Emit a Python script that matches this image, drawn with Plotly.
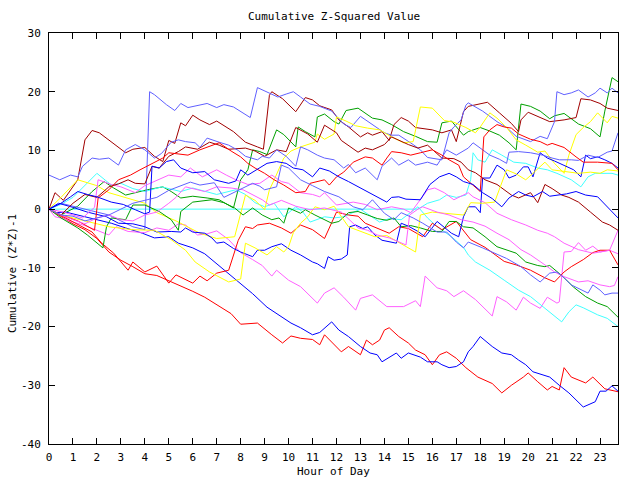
import plotly.graph_objects as go

# ---- data: (hour, cumulative value) waypoints ----
R1 = [(0,0),(0.5,-1.2),(1.0,-2.5),(1.5,-3.5),(2.0,-5.0),(2.5,-7.3),(3.0,-8.7),(3.5,-9.8),(4.0,-11.0),(4.5,-11.3),
      (5.0,-12.2),(5.5,-13.0),(6.0,-14.0),(6.5,-15.0),(7.0,-16.3),(7.6,-17.8),(8.0,-19.6),(8.7,-19.4),(9.3,-21.4),
      (9.75,-22.8),(10.1,-21.6),(10.5,-22.0),(11.0,-22.2),(11.3,-23.1),(11.5,-21.4),(11.9,-23.0),(12.2,-24.3),
      (12.5,-23.4),(13.0,-24.8),(13.25,-22.3),(13.5,-23.1),(13.8,-22.3),(14.0,-20.6),(14.2,-20.2),(14.6,-21.7),
      (15.0,-22.8),(15.3,-24.0),(15.7,-24.8),(16.0,-26.5),(16.3,-24.8),(16.6,-24.3),(17.0,-25.4),(17.4,-27.0),
      (17.9,-28.6),(18.5,-29.7),(18.9,-31.3),(19.3,-30.0),(19.8,-28.6),(20.0,-27.9),(20.4,-29.4),(20.8,-30.8),
      (21.0,-30.2),(21.3,-30.8),(21.5,-27.0),(21.8,-28.6),(22.4,-29.6),(22.7,-28.6),(23.2,-30.6),(23.75,-31.1)]
R2 = [(0,0),(0.7,-1.5),(1.2,-2.7),(1.8,-3.9),(2.2,-5.8),(2.7,-7.5),(3.3,-10.4),(3.5,-9.0),(4.0,-10.7),(4.5,-9.7),
      (5.0,-12.6),(5.3,-11.2),(6.0,-12.6),(6.3,-11.4),(6.6,-12.2),(7.0,-10.9),(7.5,-10.4),(7.9,-5.3),(8.2,-3.0),
      (8.5,-3.3),(8.7,-2.7),(9.2,-2.4),(9.7,-3.2),(10.1,-4.1),(10.5,-2.7),(11.0,-3.5),(11.5,-5.0),(11.8,-2.4),
      (12.0,-0.5),(12.5,-1.0),(12.9,-1.2),(13.2,-2.4),(13.7,-3.2),(14.2,-4.1),(14.6,-3.0),(15.0,-3.3),(15.6,-4.7),
      (16.0,-2.4),(16.4,-3.5),(17.0,-2.1),(17.6,-5.2),(18.2,-6.5),(19.0,-8.9),(19.5,-9.5),(20.1,-10.4),(20.7,-11.7),
      (21.1,-12.4),(21.5,-10.7),(21.8,-9.8),(22.3,-8.6),(22.7,-7.4),(23.0,-7.0),(23.4,-7.0),(23.75,-9.5)]
R3 = [(0,0),(0.5,-1.0),(1.2,-2.0),(1.9,-3.6),(2.05,1.9),(2.5,3.3),(2.9,5.0),(3.4,5.8),(3.8,6.7),(4.2,7.5),
      (4.75,8.7),(5.0,9.6),(5.5,9.4),(5.8,9.2),(6.3,10.1),(6.7,10.7),(7.1,11.3),(7.6,9.9),(8.0,8.9),(8.3,7.8),
      (8.6,7.0),(9.0,6.1),(9.4,5.0),(9.8,4.1),(10.3,2.8),(10.7,3.0),(10.9,4.4),(11.5,5.0),(11.7,4.1),(12.0,5.5),
      (12.3,6.3),(12.7,8.0),(13.2,8.9),(13.5,8.7),(13.9,7.5),(14.1,8.7),(14.3,9.8),(14.7,9.6),(15.1,9.2),(15.5,9.6),
      (16.0,10.1),(16.4,9.2),(16.7,8.4),(17.1,7.5),(17.3,5.5),(18.0,3.0),(18.15,12.3),(18.4,13.5),(18.7,14.4),
      (19.0,14.0),(19.3,13.8),(19.6,12.8),(20.1,11.9),(20.5,11.5),(20.8,10.9),(21.0,11.2),(21.5,10.5),(22.0,8.9),
      (22.3,8.0),(22.9,8.0),(23.5,7.8),(23.75,6.7)]
DR1 = [(0,0),(0.25,2.8),(0.6,1.5),(1.2,5.0),(1.5,11.8),(1.8,13.4),(2.1,13.0),(2.6,11.4),(2.9,10.4),(3.2,9.6),
       (3.5,10.2),(4.0,10.5),(4.4,9.0),(4.75,8.1),(5.0,11.7),(5.25,11.2),(5.5,14.7),(5.7,14.2),(6.0,16.0),(6.3,15.2),
       (6.7,14.4),(7.0,15.0),(7.7,13.2),(8.2,11.4),(8.7,10.6),(8.95,10.2),(9.2,19.4),(9.3,20.0),(9.75,18.8),
       (10.3,16.6),(10.7,19.0),(11.0,18.6),(11.3,17.6),(11.8,16.9),(12.1,15.2),(12.5,14.0),(13.0,12.3),(13.3,13.0),
       (13.5,12.6),(13.9,13.2),(14.2,11.7),(14.4,14.4),(14.7,15.6),(15.0,15.0),(15.3,13.9),(16.0,13.5),(16.4,13.0),
       (16.8,13.5),(17.0,11.5),(17.3,16.6),(17.5,17.5),(18.0,17.9),(18.3,18.2),(18.8,16.4),(19.3,14.6),(19.6,13.2),
       (19.7,15.2),(20.0,16.5),(20.5,15.6),(20.9,14.9),(21.5,15.2),(22.0,15.6),(22.2,18.8),(22.6,18.6),(23.0,18.0),
       (23.3,17.2),(23.75,16.8)]
DR2 = [(0,0),(0.5,-1.0),(1.0,1.0),(1.5,2.5),(2.0,2.0),(2.5,3.8),(2.9,4.3),(3.3,5.0),(3.6,4.4),(4.0,4.3),(4.3,7.3),
       (4.6,7.0),(5.0,9.0),(5.4,9.8),(5.7,10.6),(6.2,10.2),(6.7,11.4),(7.1,10.9),(7.5,10.2),(8.2,10.4),(8.6,9.9),
       (9.0,9.0),(9.5,10.1),(9.9,9.8),(10.3,13.9),(10.8,12.8),(11.2,11.4),(11.5,14.3),(12.0,13.0),(12.2,11.7),
       (12.9,9.7),(13.2,10.4),(13.5,10.1),(14.0,11.0),(14.3,12.3),(14.6,11.7),(15.0,11.0),(15.4,10.4),(15.8,10.9),
       (16.4,8.7),(16.9,8.6),(17.2,8.0),(17.5,6.7),(17.8,6.2),(18.2,5.0),(18.7,4.2),(19.3,2.4),(19.6,1.9),(20.1,2.8),
       (20.4,1.1),(20.7,4.2),(21.0,3.5),(21.4,2.4),(21.7,2.0),(22.1,1.2),(22.6,-0.5),(23.1,-2.2),(23.4,-2.7),
       (23.75,-3.6)]
G1 = [(0,0),(0.5,-1.0),(1.2,0.5),(1.8,3.0),(2.3,4.7),(2.7,3.6),(3.2,2.4),(3.6,2.8),(4.1,3.3),(4.75,3.8),(5.1,3.0),
      (5.5,1.9),(6.0,2.2),(6.6,1.9),(7.1,1.6),(7.7,0.2),(8.0,5.0),(8.3,6.7),(8.5,10.1),(8.8,9.8),(9.1,9.3),(9.5,13.5),
      (9.8,12.7),(10.3,10.6),(10.4,14.0),(10.7,13.2),(11.1,12.3),(11.2,15.7),(11.5,16.2),(11.9,14.9),(12.1,14.5),
      (12.4,16.8),(12.9,17.2),(13.5,15.5),(13.9,15.2),(14.3,14.4),(14.8,13.2),(15.3,12.4),(15.8,11.5),(16.2,11.4),
      (16.4,14.7),(16.8,15.0),(17.3,12.6),(17.5,13.2),(18.0,13.9),(18.4,13.3),(18.8,12.6),(19.2,11.3),(19.5,10.1),
      (19.7,17.9),(20.1,17.5),(20.5,16.7),(20.9,15.4),(21.1,15.9),(21.5,16.3),(21.8,15.4),(22.1,14.5),(22.6,13.7),
      (23.0,12.3),(23.2,16.7),(23.5,22.4),(23.75,21.7)]
G2 = [(0,0),(0.5,-1.5),(1.2,-3.2),(1.6,-4.4),(2.25,-6.6),(2.4,-3.0),(2.6,-1.5),(3.2,-1.8),(3.5,0.7),(4.0,0.7),
      (4.6,-0.4),(5.1,-1.8),(5.4,-3.6),(5.5,-0.4),(6.0,1.2),(6.5,1.5),(6.8,1.6),(7.3,1.1),(7.75,0.2),(8.1,-1.0),
      (8.5,0.2),(8.9,-1.0),(9.3,-1.8),(9.6,-1.5),(9.8,-2.4),(10.0,0.2),(10.5,-0.7),(10.7,-0.1),(11.1,-1.0),
      (11.8,-2.4),(12.1,-2.1),(12.5,-0.6),(12.9,-0.4),(13.3,-1.0),(13.7,-1.6),(14.1,-1.9),(14.4,-1.5),(14.7,-3.0),
      (15.1,-2.8),(15.5,-3.2),(16.0,-3.8),(16.4,-3.8),(16.7,-2.1),(17.0,-2.1),(17.3,-3.0),(17.7,-3.2),(18.2,-4.7),
      (18.7,-6.4),(19.1,-7.0),(19.5,-7.5),(19.9,-9.0),(20.4,-9.6),(20.7,-9.8),(20.9,-9.6),(21.4,-11.3),(21.9,-13.3),
      (22.4,-14.9),(22.9,-16.0),(23.3,-16.6),(23.75,-18.4)]
B1 = [(0,0),(0.25,-0.6),(0.7,-0.5),(1.2,-1.0),(1.8,-1.5),(2.6,-2.4),(3.2,-3.2),(3.9,-4.1),(4.4,-4.9),(5.0,-4.7),
      (5.4,-5.8),(6.0,-6.6),(6.5,-7.6),(7.0,-9.3),(7.7,-11.6),(8.5,-14.4),(9.1,-16.7),(9.7,-18.4),(10.1,-19.4),
      (10.5,-20.2),(11.0,-21.4),(11.3,-21.0),(11.8,-19.2),(12.1,-20.6),(12.5,-21.7),(13.0,-23.4),(13.4,-24.5),
      (13.7,-24.8),(13.9,-26.0),(14.5,-24.5),(14.7,-25.4),(15.0,-24.5),(15.5,-25.2),(15.8,-26.0),(16.2,-26.0),
      (16.4,-26.5),(16.7,-27.0),(17.0,-26.8),(17.3,-26.0),(17.5,-24.3),(17.7,-23.4),(18.0,-21.7),(18.5,-23.4),
      (18.9,-24.5),(19.3,-24.8),(19.6,-25.7),(19.9,-26.5),(20.2,-27.7),(20.9,-28.6),(21.3,-30.0),(21.7,-31.3),
      (22.3,-33.7),(22.8,-32.8),(23.0,-31.0),(23.25,-31.0),(23.5,-30.1),(23.75,-31.0)]
B2 = [(0,0),(0.4,1.0),(1.0,0.3),(1.6,-0.5),(2.4,-1.3),(2.9,-2.4),(3.5,-2.5),(4.0,-3.0),(4.5,-3.9),(5.1,-3.8),
      (5.5,-3.9),(5.7,-3.2),(6.0,-3.9),(6.5,-4.1),(6.8,-4.9),(7.0,-5.8),(7.3,-5.6),(7.7,-6.7),(8.0,-7.3),(8.5,-8.1),
      (8.7,-7.0),(9.0,-7.0),(9.3,-6.4),(9.7,-5.9),(10.1,-7.0),(10.5,-7.8),(11.0,-9.0),(11.2,-9.3),(11.5,-10.1),
      (11.65,-8.1),(11.9,-8.7),(12.2,-8.5),(12.45,-7.8),(12.55,-3.0),(12.8,-2.7),(13.1,-3.3),(13.3,-3.0),(13.6,-4.4),
      (13.9,-5.3),(14.3,-5.6),(14.5,-5.8),(14.7,-2.4),(15.0,-2.9),(15.4,-3.8),(15.7,-4.7),(16.2,-2.1),(16.8,-4.1),
      (17.1,-4.7),(17.3,-1.3),(17.5,0.4),(17.8,0.4),(18.0,-0.6),(18.1,5.3),(18.4,5.3),(18.7,7.5),(19.0,6.7),
      (19.2,5.3),(19.5,5.8),(19.8,7.2),(20.0,7.2),(20.2,5.5),(20.5,9.6),(20.8,8.7),(21.1,8.2),(21.5,7.5),(21.9,6.7),
      (22.2,5.5),(22.4,9.2),(22.6,8.6),(22.9,8.9),(23.2,8.4),(23.5,7.8),(23.75,7.0)]
B3 = [(0,0),(0.5,1.0),(0.9,2.1),(1.2,3.0),(1.6,2.5),(2.0,2.1),(2.6,1.2),(3.1,0.8),(3.6,-0.1),(4.0,-0.8),(4.2,-0.5),
      (4.3,7.3),(4.6,7.0),(4.9,8.1),(5.2,8.4),(5.5,7.0),(6.0,6.2),(6.5,6.4),(6.9,5.0),(7.5,4.4),(7.8,4.8),(8.0,6.7),
      (8.3,5.8),(8.7,6.8),(9.1,7.8),(9.5,8.1),(9.9,7.8),(10.2,7.0),(10.6,6.7),(11.0,5.5),(11.3,7.0),(11.7,6.5),
      (12.1,5.5),(12.5,4.7),(12.9,3.8),(13.4,2.8),(13.7,2.1),(14.1,1.2),(14.3,2.0),(14.6,2.1),(14.9,1.7),(15.5,1.6),
      (15.9,4.2),(16.3,5.5),(16.7,6.1),(17.0,5.5),(17.3,4.7),(17.7,4.2),(18.1,2.8),(18.5,1.8),(18.9,0.4),(19.2,1.9),
      (19.6,3.0),(19.9,2.4),(20.2,2.1),(20.6,3.0),(20.9,2.2),(21.2,2.4),(21.6,2.6),(22.0,3.0),(22.4,2.4),(22.9,2.1),
      (23.3,0.4),(23.75,-1.5)]
LB1 = [(0,0),(0.5,1.0),(1.0,0.5),(1.5,0.0),(2.0,-0.5),(2.5,-1.0),(3.0,-2.0),(3.5,-3.0),(4.0,-3.5),(4.2,20.0),
       (4.4,19.5),(4.9,17.8),(5.25,16.8),(5.5,18.0),(5.8,17.3),(6.2,17.6),(6.6,18.0),(7.0,17.3),(7.3,17.8),(7.7,17.4),
       (8.4,15.6),(8.7,20.7),(9.2,19.8),(9.55,19.1),(9.9,19.6),(10.2,20.0),(10.5,19.1),(10.9,17.9),(11.3,17.5),
       (11.8,16.7),(12.3,14.5),(12.6,13.9),(13.0,15.8),(13.3,15.0),(13.7,13.9),(14.0,13.0),(14.3,12.6),(14.6,12.6),
       (15.2,11.0),(15.5,10.1),(15.8,8.8),(16.4,8.4),(16.7,13.0),(16.9,14.0),(17.2,15.2),(17.4,17.7),(17.5,18.1),
       (18.1,16.7),(18.7,14.9),(19.1,13.9),(19.5,12.4),(20.1,11.5),(20.5,12.4),(20.8,12.0),(21.1,14.9),(21.2,20.0),
       (21.5,19.5),(21.8,19.8),(22.1,20.3),(22.5,19.1),(22.8,19.8),(23.0,20.6),(23.3,19.8),(23.5,20.6),(23.75,19.8)]
LB2 = [(0,5.8),(0.45,5.0),(0.9,5.8),(1.2,5.5),(1.4,7.3),(1.8,8.7),(2.1,8.5),(2.5,8.7),(2.9,7.5),(3.2,10.1),
       (3.6,11.0),(4.0,10.1),(4.4,8.7),(4.7,9.5),(5.1,11.4),(5.4,11.8),(5.7,11.5),(6.1,11.3),(6.3,10.5),(6.6,12.1),
       (7.1,11.4),(7.5,10.9),(7.9,10.0),(8.2,9.0),(8.7,8.4),(8.9,9.0),(9.2,8.7),(9.5,10.1),(9.9,9.0),(10.3,7.3),
       (10.5,10.6),(10.8,10.1),(11.2,9.2),(11.5,8.7),(11.9,8.4),(12.3,7.0),(12.5,7.6),(12.8,6.2),(13.2,7.0),
       (13.7,5.0),(13.9,7.3),(14.3,8.7),(14.6,7.5),(15.0,8.4),(15.3,7.5),(15.8,8.0),(16.2,7.5),(16.6,10.1),(17.0,9.2),
       (17.5,10.4),(17.7,11.3),(18.0,10.4),(18.4,9.2),(18.8,8.5),(19.1,7.8),(19.2,9.7),(19.6,9.8),(20.1,9.6),
       (20.6,9.2),(21.0,8.7),(21.3,8.4),(21.8,8.4),(22.1,8.3),(22.5,9.2),(22.9,8.8),(23.3,9.7),(23.5,9.9),(23.75,13.0)]
LB3 = [(0,0),(0.5,-1.0),(1.0,-1.2),(1.5,-2.0),(2.0,-1.5),(2.5,-1.0),(3.0,0.0),(3.5,1.0),(4.0,1.5),(4.5,2.0),
       (5.0,3.2),(5.5,4.0),(5.9,4.6),(6.3,4.1),(6.9,4.5),(7.3,2.0),(7.8,3.0),(8.5,4.4),(8.8,3.9),(9.0,3.3),(9.5,3.8),
       (9.7,7.5),(10.0,7.0),(10.5,5.0),(11.0,4.0),(11.5,3.0),(12.1,2.1),(12.7,0.4),(13.1,-0.1),(13.5,1.6),(14.0,-0.7),
       (14.4,-1.8),(14.7,-0.6),(15.2,-1.5),(15.6,-2.4),(16.2,-3.9),(16.6,-3.9),(17.0,-5.6),(17.3,-6.6),(17.5,-5.6),
       (18.1,-6.6),(18.6,-7.5),(19.1,-8.4),(19.7,-9.8),(20.1,-11.2),(20.5,-12.4),(20.9,-10.9),(21.2,-10.7),
       (21.5,-11.7),(21.8,-12.9),(22.1,-13.5),(22.5,-14.3),(22.7,-12.9),(23.0,-13.8),(23.2,-14.6),(23.5,-14.3),
       (23.75,-14.3)]
M1 = [(0,0),(0.25,-1.3),(0.6,-1.6),(1.0,-2.2),(1.5,-2.8),(1.9,-3.4),(2.5,-4.4),(2.8,-3.0),(3.3,-3.8),(4.0,-4.0),
      (4.5,-3.2),(5.0,-3.6),(5.4,-2.5),(5.7,-2.7),(6.2,-4.4),(6.6,-4.2),(7.0,-3.7),(7.5,-5.2),(8.0,-7.4),(8.5,-8.6),
      (8.9,-9.6),(9.3,-11.4),(9.5,-10.4),(10.0,-12.1),(10.5,-13.2),(11.2,-16.0),(11.5,-14.3),(11.9,-13.4),
      (12.3,-15.0),(12.8,-17.2),(13.0,-15.2),(13.5,-14.6),(14.1,-16.6),(14.8,-16.6),(15.3,-15.6),(15.5,-16.6),
      (15.7,-11.4),(16.2,-13.4),(16.6,-13.9),(16.9,-14.9),(17.3,-13.9),(17.8,-15.4),(18.5,-18.2),(18.7,-14.9),
      (19.1,-15.8),(19.5,-17.2),(19.8,-15.0),(20.1,-16.0),(20.5,-16.9),(20.8,-15.0),(21.2,-16.0),(21.3,-15.8),
      (21.5,-7.3),(21.8,-7.2),(22.1,-5.7),(22.4,-7.0),(22.7,-6.3),(23.0,-7.3),(23.4,-7.0),(23.75,-7.6)]
M2 = [(0,0),(0.6,-0.5),(1.4,-1.5),(1.9,0.3),(2.05,5.0),(2.6,4.2),(3.0,3.8),(3.6,2.8),(4.0,4.0),(4.6,5.0),(5.0,5.8),
      (5.5,5.5),(5.9,7.0),(6.4,5.5),(7.0,6.7),(7.4,5.8),(7.8,5.0),(8.3,4.2),(8.8,4.4),(9.3,5.8),(9.7,4.7),(10.0,4.4),
      (10.5,2.8),(11.0,2.5),(11.3,2.1),(11.5,2.8),(12.0,0.7),(12.7,1.2),(13.2,0.8),(13.7,-0.1),(14.3,0.4),(14.8,0.0),
      (15.1,-0.6),(15.8,3.3),(16.1,3.6),(16.5,2.8),(16.9,1.6),(17.5,2.8),(17.7,2.1),(18.2,1.1),(18.7,-0.7),
      (19.3,-1.8),(19.9,-2.7),(20.4,-3.6),(20.8,-4.1),(21.1,-4.7),(21.5,-5.8),(22.1,-6.9),(22.7,-7.5),(23.0,-7.3),
      (23.4,-7.0),(23.75,-3.6)]
M3 = [(0,0),(0.5,-1.0),(1.0,-1.8),(1.5,-2.5),(2.0,-1.5),(2.5,-1.0),(3.0,-1.8),(3.5,-2.0),(4.0,-1.0),(4.5,-0.5),
      (5.0,1.0),(5.3,2.0),(5.7,3.8),(6.2,3.3),(6.5,3.0),(7.0,3.8),(7.6,3.6),(8.1,3.3),(8.5,2.5),(8.9,1.6),(9.2,0.7),
      (9.7,1.5),(10.3,0.5),(10.9,-0.1),(11.5,0.2),(12.2,-0.5),(12.9,-3.2),(13.3,-3.6),(13.7,-4.4),(14.2,-4.9),
      (14.5,-5.4),(14.9,-6.1),(15.05,-1.0),(15.4,0.0),(15.6,0.4),(16.2,-0.5),(16.7,-1.0),(17.2,-1.8),(17.7,-2.2),
      (18.2,-2.9),(18.7,-4.1),(19.2,-5.2),(19.7,-6.9),(20.1,-7.8),(20.7,-9.5),(21.1,-10.7),(21.5,-11.5),
      (22.1,-12.4),(22.5,-12.2),(23.0,-12.9),(23.4,-13.2),(23.6,-13.0),(23.75,-11.5)]
C1 = [(0,0),(15.4,0.0),(15.8,1.0),(16.3,1.6),(16.6,2.4),(17.0,2.0),(17.4,2.4),(17.6,5.0),(17.7,9.6),(17.9,8.4),
      (18.2,8.0),(18.5,10.1),(18.9,9.2),(19.4,8.0),(19.9,7.8),(20.4,7.0),(20.8,6.7),(21.2,6.1),(21.8,5.0),(22.2,3.8),
      (22.5,5.5),(22.8,6.1),(23.5,6.1),(23.75,5.8)]
C2 = [(0,0),(0.5,0.8),(1.0,2.0),(1.5,4.0),(2.0,6.1),(2.6,4.1),(3.0,4.4),(3.5,3.5),(4.0,3.0),(4.7,3.8),(5.5,3.0),
      (6.0,3.6),(6.5,3.0),(7.0,2.5),(7.8,3.3),(8.2,2.5),(8.6,1.1),(9.0,0.4),(9.4,1.0),(9.8,-1.3),(10.3,0.4),
      (10.6,-0.5),(10.9,-2.2),(11.5,-1.3),(11.9,-1.5),(12.3,-1.3),(13.0,0.0),(13.8,-2.2),(14.2,-1.6),(14.7,-1.8),
      (15.4,0.4),(15.8,-1.5),(16.2,-3.0),(16.8,-4.7),(17.3,-6.5),(17.5,-7.8),(17.8,-9.0),(18.4,-10.4),(19.0,-12.1),
      (19.6,-13.8),(20.1,-14.9),(20.6,-16.6),(21.0,-18.0),(21.4,-19.2),(21.7,-17.5),(22.0,-16.3),(22.3,-16.8),
      (22.5,-17.2),(22.9,-18.0),(23.3,-18.6),(23.75,-20.0)]
Y1 = [(0,0),(0.5,2.0),(1.2,5.0),(2.0,4.0),(2.5,2.8),(3.2,2.0),(4.0,1.0),(4.5,-0.6),(5.3,-2.0),(6.3,-4.1),(7.0,-5.0),
      (7.75,-4.7),(8.0,-1.0),(8.2,2.4),(8.6,1.5),(9.0,-0.1),(9.2,3.3),(9.4,5.0),(9.8,8.7),(10.1,9.9),(10.5,10.6),
      (10.8,11.0),(11.1,11.4),(11.2,12.8),(11.5,11.9),(11.9,12.8),(12.0,15.7),(12.4,15.0),(12.8,14.2),(13.3,13.8),
      (13.8,13.5),(14.3,12.3),(14.8,11.3),(15.2,11.5),(15.5,17.4),(16.0,17.2),(16.5,15.1),(16.9,14.8),(17.4,13.9),
      (17.8,13.0),(18.0,14.0),(18.4,16.4),(18.7,15.5),(19.1,13.9),(19.5,11.8),(19.9,10.9),(20.4,9.7),(20.7,9.9),
      (21.1,7.8),(21.5,6.1),(21.7,9.2),(22.0,12.7),(22.3,13.9),(22.6,14.9),(22.9,16.4),(23.3,14.7),(23.5,15.8),
      (23.75,15.5)]
Y2 = [(0,0),(0.5,-1.0),(1.5,-2.0),(2.5,-3.0),(3.5,-3.5),(4.4,-3.6),(5.1,-5.2),(5.7,-7.0),(6.1,-9.0),(6.7,-10.7),
      (7.5,-12.4),(8.0,-11.9),(8.2,-5.8),(8.6,-6.6),(9.1,-7.8),(9.5,-6.4),(9.8,-7.3),(10.0,-6.4),(10.2,-4.0),
      (10.5,-2.4),(10.8,-1.3),(11.1,0.4),(11.5,-0.1),(11.9,0.5),(12.5,-3.0),(13.0,-3.8),(13.6,-4.7),(14.1,-4.5),
      (14.8,-6.1),(15.3,-7.3),(15.5,-1.0),(16.0,-0.5),(16.5,-0.7),(17.3,-1.0),(17.6,1.1),(18.1,1.0),(18.6,1.2),
      (18.9,4.4),(19.1,6.7),(19.5,6.0),(19.9,5.0),(20.2,6.1),(20.7,8.0),(21.0,6.7),(21.5,6.4),(22.1,6.1),(22.6,6.3),
      (23.0,6.1),(23.3,6.7),(23.75,6.5)]

x_ticks = list(range(0, 24))
y_ticks = [-40, -30, -20, -10, 0, 10, 20, 30]

RED, DRED, GREEN, BLUE = "#ff0000", "#a00000", "#00a000", "#0000ff"
LBLUE, MAG, CYAN, YEL = "#6060ff", "#ff60ff", "#40ffff", "#ffff00"

series = [
    (C1, CYAN), (R1, RED), (G1, GREEN), (B1, BLUE), (M1, MAG), (C2, CYAN), (DR1, DRED), (LB1, LBLUE), (Y1, YEL),
    (R2, RED), (G2, GREEN), (B2, BLUE), (M2, MAG), (DR2, DRED), (LB2, LBLUE), (Y2, YEL),
    (R3, RED), (B3, BLUE), (M3, MAG), (LB3, LBLUE),
]

fig = go.Figure()
for pts, col in series:
    fig.add_trace(go.Scatter(x=[p[0] for p in pts], y=[p[1] for p in pts], mode="lines",
                             line=dict(color=col, width=1), hoverinfo="skip"))

FONT = "DejaVu Sans Mono, Liberation Mono, monospace"
axis_common = dict(showgrid=False, zeroline=False, showline=True, linecolor="black", linewidth=1,
                   mirror="ticks", ticks="inside", ticklen=6, tickcolor="black", tickwidth=1,
                   tickfont=dict(family=FONT, size=11, color="black"))

fig.update_layout(
    width=640, height=480,
    margin=dict(l=49, r=22, t=33, b=36),
    paper_bgcolor="white", plot_bgcolor="white",
    showlegend=False,
    xaxis=dict(range=[0, 23.75], tickvals=x_ticks, ticktext=[str(v) for v in x_ticks],
               ticklabelstandoff=3, **axis_common),
    yaxis=dict(range=[-40, 30], tickvals=y_ticks, ticktext=[str(v) for v in y_ticks],
               ticklabelstandoff=5, **axis_common),
    annotations=[
        dict(text="Cumulative Z-Squared Value", xref="paper", yref="paper", x=0.5, y=(444 - 16.5) / 411,
             xanchor="center", yanchor="middle", showarrow=False, font=dict(family=FONT, size=11, color="black")),
        dict(text="Hour of Day", xref="paper", yref="paper", x=0.5, y=-(471 - 444) / 411,
             xanchor="center", yanchor="middle", showarrow=False, font=dict(family=FONT, size=11, color="black")),
        dict(text="Cumulative (Z*Z)-1", xref="paper", yref="paper", x=(12 - 49) / 569, y=(444 - 274) / 411,
             xanchor="center", yanchor="middle", textangle=-90, showarrow=False,
             font=dict(family=FONT, size=11, color="black")),
    ],
)

fig.write_html("out.html")
